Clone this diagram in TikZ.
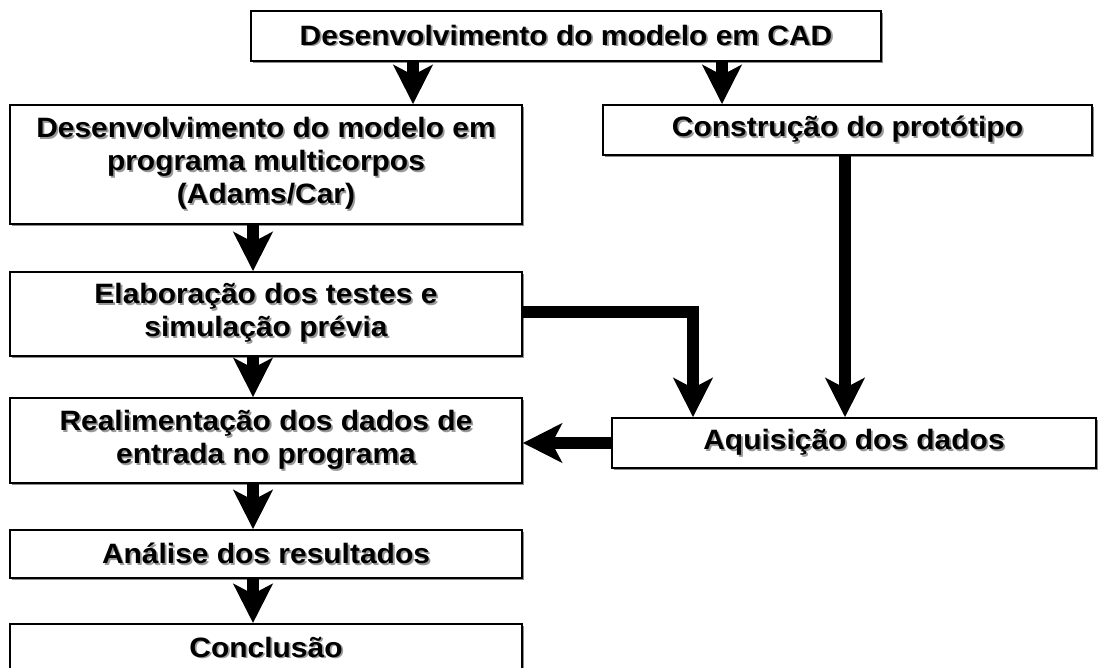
\documentclass[tikz,border=0pt]{standalone}
\usepackage{fontspec}
\setmainfont[FakeStretch=1.07]{Liberation Sans}
\usetikzlibrary{arrows.meta,shadows}
\newcommand\sh[1]{\makebox[0pt][l]{\hspace{1.8pt}\raisebox{-1.8pt}{\color{black!40}#1}}#1}
\tikzset{
  box/.style={draw=black, line width=1.8pt, fill=white, inner sep=0pt, align=center,
    font=\fontsize{28}{33}\selectfont\bfseries,
    drop shadow={shadow xshift=1.6pt, shadow yshift=-1.6pt, fill=black!45, opacity=1}},
  boxtext/.style={font=\fontsize{28}{33}\selectfont\bfseries, inner sep=0pt},
  bigarrow/.style={line width=12.5pt, line join=miter,
    -{Stealth[length=39pt,width=39pt,inset=10pt]}},
}
\begin{document}
\begin{tikzpicture}[x=1pt,y=-1pt]
\useasboundingbox (0,0) rectangle (1104,668);
\node[box, minimum width=630pt, minimum height=50pt] (top) at (566,36) {\sh{Desenvolvimento do modelo em CAD}};
\node[box, minimum width=512pt, minimum height=119pt] (L1) at (266,164.5) {\sh{Desenvolvimento do modelo em}\\\sh{programa multicorpos}\\\sh{(Adams/Car)}};
\node[box, minimum width=489pt, minimum height=50pt] (R1) at (847.5,130) {\sh{Construção do protótipo}};
\node[box, minimum width=512pt, minimum height=84pt] (L2) at (266,314) {\sh{Elaboração dos testes e}\\\sh{simulação prévia}};
\node[box, minimum width=512pt, minimum height=85pt] (L3) at (266,440.5) {\sh{Realimentação dos dados de}\\\sh{entrada no programa}};
\node[box, minimum width=484pt, minimum height=50pt] (Aq) at (854,443) {\sh{Aquisição dos dados}};
\node[box, minimum width=512pt, minimum height=48pt] (L4) at (266,554) {\sh{Análise dos resultados}};
\node[box, minimum width=512pt, minimum height=80pt, anchor=north] (L5) at (266,623) {};
\node[boxtext] (L5t) at (266,648) {\sh{Conclusão}};
\coordinate (c1) at (413,0);
\coordinate (c2) at (722,0);
\coordinate (c3) at (845,0);
\coordinate (c4) at (693,0);
\coordinate (c5) at (253,0);
\coordinate (r2) at (0,312);
\draw[bigarrow] (top.south -| c1) -- (L1.north -| c1);
\draw[bigarrow] (top.south -| c2) -- (R1.north -| c2);
\draw[bigarrow] (R1.south -| c3) -- (Aq.north -| c3);
\draw[bigarrow] (L1.south -| c5) -- (L2.north -| c5);
\draw[bigarrow] (L2.south -| c5) -- (L3.north -| c5);
\draw[bigarrow] (L3.south -| c5) -- (L4.north -| c5);
\draw[bigarrow] (L4.south -| c5) -- (L5.north -| c5);
\draw[bigarrow] (L2.east |- r2) -- (c4 |- r2) -- (Aq.north -| c4);
\draw[bigarrow] (Aq.west) -- (L3.east |- Aq.west);
\end{tikzpicture}
\end{document}
